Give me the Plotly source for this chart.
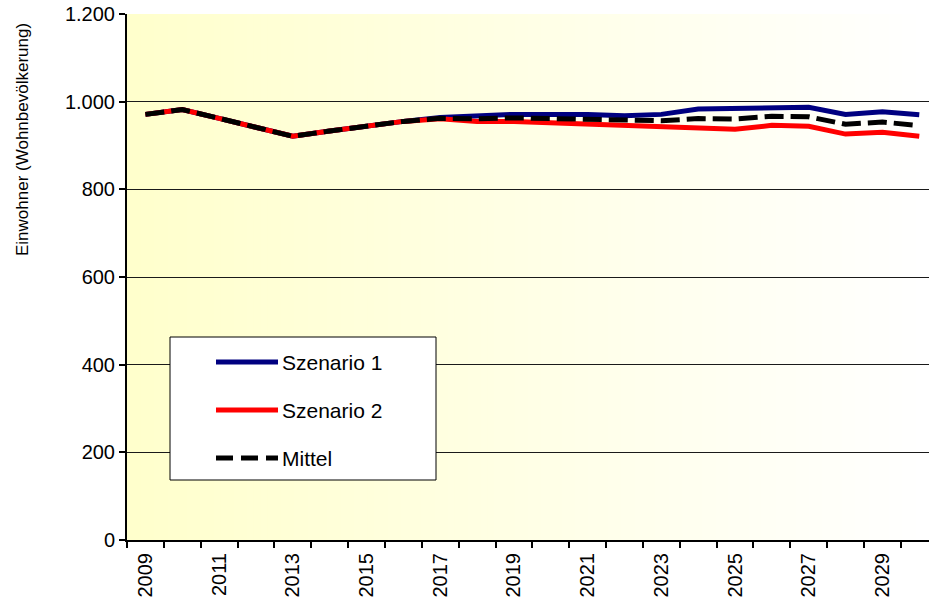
import plotly.graph_objects as go

# Population by year (Einwohner, Wohnbevölkerung)
years = [2009, 2010, 2011, 2012, 2013, 2014, 2015, 2016, 2017, 2018, 2019,
         2020, 2021, 2022, 2023, 2024, 2025, 2026, 2027, 2028, 2029, 2030]
szenario_1 = [971, 982, 962, 942, 921, 933, 945, 955, 964, 967, 971,
              971, 971, 968, 971, 983, 984, 987, 987, 971, 977, 970]
szenario_2 = [971, 982, 962, 942, 921, 933, 945, 955, 961, 955, 955,
              952, 950, 946, 942, 940, 937, 946, 944, 926, 930, 921]
mittel = [971, 982, 962, 942, 921, 933, 945, 955, 962, 961, 963,
          961.5, 960.5, 957, 956.5, 961.5, 960.5, 966.5, 965.5, 948.5, 953.5, 945.5]
tick_years = [2009, 2011, 2013, 2015, 2017, 2019, 2021, 2023, 2025, 2027, 2029]

FONT = "Arial, 'Liberation Sans', sans-serif"
W_FIG, H_FIG = 929, 605
L, R, T, B = 127, 929, 14, 540
PW, PH = R - L, B - T


def px(x):
    return (x - L) / PW


def py(y):
    return (B - y) / PH


fig = go.Figure()
fig.add_trace(go.Scatter(x=years, y=szenario_1, mode="lines", name="Szenario 1",
                         line=dict(color="#000080", width=5), showlegend=False))
fig.add_trace(go.Scatter(x=years, y=szenario_2, mode="lines", name="Szenario 2",
                         line=dict(color="#FF0000", width=5), showlegend=False))
fig.add_trace(go.Scatter(x=years, y=mittel, mode="lines", name="Mittel",
                         line=dict(color="black", width=5, dash="19px,7px"),
                         showlegend=False))

shapes = []
# plot background: pale yellow fading to white from left to right
n = 120
for i in range(n):
    t = i / (n - 1)
    g = round(204 + (255 - 204) * t)
    shapes.append(dict(type="rect", xref="x domain", yref="y domain",
                       x0=i / n, x1=(i + 1.6) / n, y0=0, y1=1,
                       fillcolor=f"rgb(255,255,{g})", line=dict(width=0),
                       layer="below"))

# legend box
shapes.append(dict(type="rect", xref="paper", yref="paper",
                   x0=px(170), x1=px(436), y0=py(480), y1=py(337),
                   fillcolor="white", line=dict(color="black", width=1),
                   layer="above"))
legend_items = [("Szenario 1", "#000080", "solid", 362),
                ("Szenario 2", "#FF0000", "solid", 410),
                ("Mittel", "black", "17px,8px", 458)]
annotations = []
for label, color, dash, ly in legend_items:
    shapes.append(dict(type="line", xref="paper", yref="paper",
                       x0=px(216), x1=px(278), y0=py(ly), y1=py(ly),
                       line=dict(color=color, width=5, dash=dash), layer="above"))
    annotations.append(dict(text=label, xref="paper", yref="paper",
                            x=px(280), y=py(ly), xanchor="left", yanchor="middle",
                            showarrow=False, font=dict(family=FONT, size=21, color="black")))

annotations.append(dict(text="Einwohner (Wohnbevölkerung)", xref="paper", yref="paper",
                        x=px(22), y=py(140), textangle=-90, showarrow=False,
                        xanchor="center", yanchor="middle",
                        font=dict(family=FONT, size=17, color="black")))

fig.update_layout(
    width=W_FIG, height=H_FIG,
    margin=dict(l=L, r=W_FIG - R, t=T, b=H_FIG - B),
    paper_bgcolor="white", plot_bgcolor="white",
    separators=",.",
    font=dict(family=FONT, size=20, color="black"),
    shapes=shapes, annotations=annotations,
    showlegend=False,
)
fig.update_xaxes(
    range=[2008.5, 2008.5 + PW / 36.85],
    tickmode="array", tickvals=tick_years, ticktext=[str(y) for y in tick_years],
    tickangle=-90, ticks="", ticklabelstandoff=3,
    minor=dict(ticks="outside", ticklen=6, tickwidth=2, tickcolor="black",
               tickmode="array", tickvals=[y - 0.5 for y in years] + [years[-1] + 0.5],
               showgrid=False),
    showgrid=False, zeroline=False,
    showline=True, linecolor="black", linewidth=2,
    tickfont=dict(family=FONT, size=20, color="black"),
)
fig.update_yaxes(
    range=[0, 1200], tickmode="linear", tick0=0, dtick=200, tickformat=",d",
    ticks="outside", ticklen=6, tickwidth=2, tickcolor="black",
    showgrid=True, gridcolor="#1a1a1a", gridwidth=1,
    zeroline=False, showline=True, linecolor="black", linewidth=2,
    tickfont=dict(family=FONT, size=20, color="black"),
)

fig.write_html("out.html")
